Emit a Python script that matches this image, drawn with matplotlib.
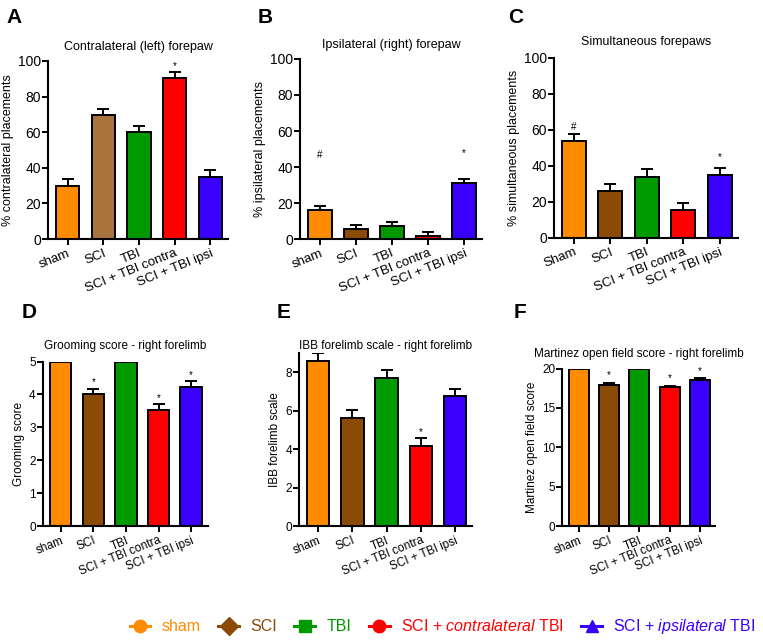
import numpy as np
import matplotlib.pyplot as plt
from matplotlib.lines import Line2D

plt.rcParams['font.family'] = ['Liberation Sans', 'DejaVu Sans']
plt.rcParams['mathtext.fontset'] = 'custom'
plt.rcParams['mathtext.rm'] = 'Liberation Sans'
plt.rcParams['mathtext.it'] = 'Liberation Sans:italic'

groups = ['sham', 'SCI', 'TBI', 'SCI + TBI contra', 'SCI + TBI ipsi']
groups_c = ['Sham', 'SCI', 'TBI', 'SCI + TBI contra', 'SCI + TBI ipsi']

# panel values (mean, sem)
a_mean = [30, 69.5, 60, 90.5, 35]
a_err = [4, 3.5, 3.5, 3.5, 3.5]
b_mean = [16, 5.5, 7, 1.5, 31]
b_err = [2.5, 2.5, 2.5, 2.5, 2.5]
c_mean = [53.5, 26, 34, 15.5, 35]
c_err = [4, 4, 4, 4, 4]
d_mean = [5, 4.0, 5, 3.53, 4.23]
d_err = [0, 0.18, 0, 0.18, 0.18]
e_mean = [8.6, 5.65, 7.7, 4.15, 6.75]
e_err = [0.4, 0.42, 0.42, 0.42, 0.4]
f_mean = [20, 17.9, 20, 17.6, 18.5]
f_err = [0, 0.25, 0, 0.25, 0.25]

colors = ['#FF8C00', '#8B4A06', '#009A00', '#FF0000', '#3A00FF']
colors_a = ['#FF8C00', '#A8733C', '#009A00', '#FF0000', '#3A00FF']

legend_labels = ['sham', 'SCI', 'TBI', r'SCI + $\mathit{contralateral}$ TBI',
                 r'SCI + $\mathit{ipsilateral}$ TBI']
legend_markers = ['o', 'D', 's', 'o', '^']

fig = plt.figure(figsize=(7.63, 6.41), dpi=100)


def panel(rect, means, errs, cols, labels, ylim, yticks, title, ylabel,
          letter, letter_xy, marks, fs=10, xfs=9.5, tfs=9, tpad=8, lfs=9):
    ax = fig.add_axes(rect)
    x = np.arange(len(means))
    ax.bar(x, means, width=0.66, color=cols, edgecolor='black', linewidth=1.4,
           zorder=2)
    ax.errorbar(x, means, yerr=[np.zeros(len(errs)), errs], fmt='none',
                ecolor='black', elinewidth=1.4, capsize=4, capthick=1.4, zorder=1)
    ax.set_xlim(-0.55, 4.5)
    ax.set_ylim(*ylim)
    ax.set_yticks(yticks)
    ax.set_xticks(x)
    ax.set_xticklabels(labels, rotation=22, ha='right', rotation_mode='anchor',
                       fontsize=xfs)
    ax.tick_params(axis='y', labelsize=fs, width=1.4, length=4, pad=1)
    ax.tick_params(axis='x', width=1.4, length=4, pad=2)
    for s in ['top', 'right']:
        ax.spines[s].set_visible(False)
    for s in ['left', 'bottom']:
        ax.spines[s].set_linewidth(1.5)
    ax.set_title(title, fontsize=tfs, pad=tpad)
    ax.set_ylabel(ylabel, fontsize=lfs, labelpad=3)
    for i, sym, yy in marks:
        ax.text(i, yy, sym, ha='center', va='bottom', fontsize=7)
    fig.text(letter_xy[0], letter_xy[1], letter, fontsize=15, fontweight='bold',
             ha='left', va='center')
    return ax


panel([0.063, 0.627, 0.236, 0.278], a_mean, a_err, colors_a, groups,
      (0, 100), [0, 20, 40, 60, 80, 100], 'Contralateral (left) forepaw',
      '% contralateral placements', 'A', (0.008, 0.972), [(3, '*', 94.5)])
panel([0.393, 0.627, 0.239, 0.281], b_mean, b_err, colors, groups,
      (0, 100), [0, 20, 40, 60, 80, 100], 'Ipsilateral (right) forepaw',
      '% ipsilateral placements', 'B', (0.337, 0.972),
      [(0, '#', 44), (4, '*', 45)])
panel([0.726, 0.629, 0.241, 0.281], c_mean, c_err, colors, groups_c,
      (0, 100), [0, 20, 40, 60, 80, 100], 'Simultaneous forepaws',
      '% simultaneous placements', 'C', (0.666, 0.972),
      [(0, '#', 59), (4, '*', 42)], tpad=9)
panel([0.056, 0.179, 0.216, 0.257], d_mean, d_err, colors, groups,
      (0, 5), [0, 1, 2, 3, 4, 5], 'Grooming score - right forelimb',
      'Grooming score', 'D', (0.028, 0.512),
      [(1, '*', 4.22), (3, '*', 3.75), (4, '*', 4.45)],
      fs=8.5, xfs=8.5, tfs=8.5, tpad=9, lfs=8.5)
panel([0.392, 0.179, 0.227, 0.270], e_mean, e_err, colors, groups,
      (0, 9), [0, 2, 4, 6, 8], 'IBB forelimb scale - right forelimb',
      'IBB forelimb scale', 'E', (0.363, 0.512),
      [(3, '*', 4.65)], fs=8.5, xfs=8.5, tfs=8.5, tpad=3, lfs=8.5)
panel([0.737, 0.179, 0.200, 0.246], f_mean, f_err, colors, groups,
      (0, 20), [0, 5, 10, 15, 20], 'Martinez open field score - right forelimb',
      'Martinez open field score', 'F', (0.673, 0.512),
      [(1, '*', 18.5), (3, '*', 18.2), (4, '*', 19.1)],
      fs=8.5, xfs=8.5, tfs=8.5, tpad=8, lfs=8.5)

handles = [Line2D([0], [0], color=c, marker=m, markersize=9, linewidth=2.2)
           for c, m in zip(colors, legend_markers)]
leg = fig.legend(handles, legend_labels, loc='center', ncol=5,
                 bbox_to_anchor=(0.58, 0.022), frameon=False, fontsize=11.5,
                 handlelength=1.3, handletextpad=0.7, columnspacing=1.1)
for t, c in zip(leg.get_texts(), colors):
    t.set_color(c)

fig.savefig('out.png', dpi=100)
